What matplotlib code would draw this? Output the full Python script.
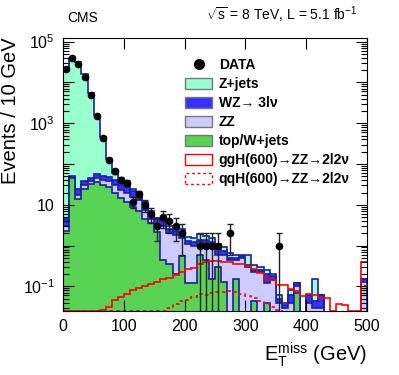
import numpy as np
import matplotlib
matplotlib.use("Agg")
import matplotlib.pyplot as plt
from matplotlib.patches import Patch
from matplotlib.lines import Line2D
from matplotlib.ticker import FixedLocator, FuncFormatter, NullFormatter

plt.rcParams['font.family'] = ['Liberation Sans', 'DejaVu Sans']
plt.rcParams['mathtext.fontset'] = 'custom'
plt.rcParams['mathtext.rm'] = 'Liberation Sans'
plt.rcParams['mathtext.it'] = 'Liberation Sans'

# binning: 10 GeV bins from 0 to 500
edges = np.arange(0, 510, 10)

# stacked backgrounds (per-process contributions, events / 10 GeV)
topw = [2.3, 45, 14, 24, 32, 36, 31, 28, 20, 15,
        12, 9, 7, 4.5, 3.5, 2.2, 0.45, 0.35, 0.2, 0.55,
        0.12, 0.12, 0.6, 0.45, 0.15, 0.3, 0.13, 0, 0.15, 0,
        0, 0.045, 0, 0.04, 0, 0, 0, 0, 0.07, 0,
        0, 0, 0, 0, 0, 0, 0, 0, 0, 0]
zz = [0.7, 2, 3, 6, 7, 9, 10, 10, 10, 8,
      8, 7, 6, 3, 1.1, 1.2, 2.55, 1.65, 1.6, 0.95,
      0.98, 0.88, 0.6, 0.65, 0.75, 0.3, 0.47, 0.45, 0.3, 0.5,
      0.3, 0.175, 0.22, 0.08, 0.14, 0.04, 0.03, 0.04, 0.03, 0,
      0.04, 0.03, 0.03, 0, 0, 0, 0, 0, 0, 0.13]
wz = [1.6, 4, 8, 8, 7, 13, 11, 10, 10, 7,
      8, 6, 5, 3, 1.7, 1.0, 1.0, 0.6, 0.5, 0.5,
      0.2, 0.25, 0.2, 0.25, 0.35, 0.25, 0.15, 0.05, 0.05, 0.05,
      0.03, 0.03, 0.03, 0.08, 0.04, 0.01, 0.005, 0.02, 0.02, 0,
      0.02, 0.015, 0.03, 0, 0, 0, 0, 0, 0, 0.025]
zjets = [22995, 39950, 30975, 15962, 5454, 1542, 418, 82, 22, 10,
         9, 3, 2, 1, 0.9, 0.4, 0.5, 0.4, 0.3, 0.5,
         0.3, 0.25, 0.5, 0.35, 0.25, 0.25, 0.15, 0.15, 0.1, 0.05,
         0.27, 0.08, 0.05, 0.05, 0.02, 0.01, 0.005, 0.02, 0, 0,
         0, 0.105, 0, 0, 0, 0, 0, 0, 0, 0]

# signals
ggh = [0.0252, 0.0252, 0.0252, 0.0252, 0.0252, 0.0252, 0.027, 0.032, 0.047, 0.056,
       0.064, 0.082, 0.089, 0.10, 0.114, 0.128, 0.15, 0.165, 0.19, 0.22,
       0.26, 0.28, 0.35, 0.39, 0.42, 0.42, 0.40, 0.39, 0.35, 0.35,
       0.32, 0.27, 0.21, 0.15, 0.14, 0.11, 0.11, 0.085, 0.078, 0.057,
       0.065, 0.062, 0.053, 0.053, 0.0252, 0.038, 0.035, 0.0252, 0.0252, 0.39]
qqh = [0.0256, 0.0256, 0.0256, 0.0256, 0.0256, 0.0256, 0.0256, 0.0256, 0.0256, 0.0256,
       0.0256, 0.0256, 0.0256, 0.0256, 0.0256, 0.0256, 0.0256, 0.03, 0.038, 0.044,
       0.046, 0.055, 0.064, 0.062, 0.07, 0.075, 0.072, 0.078, 0.072, 0.064,
       0.058, 0.053, 0.045, 0.038, 0.032, 0.026, 0.01, 0.01, 0.01, 0.01,
       0.01, 0.01, 0.01, 0.01, 0.01, 0.01, 0.01, 0.01, 0.01, 0.10]

# observed data (bin centre, counts)
data_x = [5, 15, 25, 35, 45, 55, 65, 75, 85, 95, 105, 115, 125, 135, 145,
          155, 165, 175, 185, 195, 225, 235, 245, 255, 275, 355]
data_y = [21500, 40000, 29000, 13700, 5060, 1520, 425, 128, 66, 41, 35, 12, 18, 10, 6,
          3, 5, 4, 3, 2, 1, 1, 1, 1, 2, 1]

c_zj = '#99FFCC'
c_wz = '#3333FF'
c_zz = '#CCCCFF'
c_tw = '#59D354'
c_line = '#1E1EA0'

fig = plt.figure(figsize=(3.99, 3.75), dpi=100)
ax = fig.add_axes([0.1586, 0.1707, 0.7604, 0.7288])
ymin, ymax = 0.025, 1.25e5
floor = 1e-4

lvl_g = np.array(topw)
lvl_z = lvl_g + np.array(zz)
lvl_w = lvl_z + np.array(wz)
lvl_t = lvl_w + np.array(zjets)

for lvl, col in [(lvl_t, c_zj), (lvl_w, c_wz), (lvl_z, c_zz), (lvl_g, c_tw)]:
    v = np.where(lvl > 0, lvl, floor)
    ax.stairs(v, edges, baseline=floor, fill=True, color=col, lw=0)
    ax.stairs(v, edges, baseline=floor, fill=False, color=c_line, lw=1.2)

ax.stairs(ggh, edges, baseline=None, color='red', lw=1.2)
ax.stairs(qqh, edges, baseline=None, color='red', lw=1.2, ls=(0, (2, 2)))

dy = np.array(data_y, dtype=float)
err = np.sqrt(dy)
lo = np.minimum(err, dy - 1e-3)
ax.errorbar(data_x, dy, yerr=[lo, err], fmt='o', color='black', ms=4.5,
            ecolor='#222222', elinewidth=1, capsize=2.5, capthick=1)

ax.set_yscale('log')
ax.set_xlim(0, 500)
ax.set_ylim(ymin, ymax)

ax.xaxis.set_major_locator(FixedLocator([0, 100, 200, 300, 400, 500]))
ax.yaxis.set_major_locator(FixedLocator([10.0 ** k for k in range(-1, 6)]))
lab = {5: r'$10^{5}$', 3: r'$10^{3}$', 1: '10', -1: r'$10^{-1}$'}
ax.yaxis.set_major_formatter(FuncFormatter(
    lambda v, p: lab.get(int(round(np.log10(v))), '')))
minors = [m * 10.0 ** k for k in range(-2, 6) for m in range(2, 10)]
ax.yaxis.set_minor_locator(FixedLocator(minors))
ax.yaxis.set_minor_formatter(NullFormatter())
ax.tick_params(which='both', direction='in', top=True, right=True, labelsize=11.5)
ax.tick_params(which='major', length=8, width=0.8)
ax.tick_params(which='minor', length=4, width=0.8)
ax.tick_params(axis='x', pad=6)
ax.tick_params(axis='y', pad=6)

ax.set_ylabel('Events / 10 GeV', fontsize=14.5, loc='top', labelpad=2)
ax.set_xlabel(r'E$_\mathregular{T}^\mathregular{miss}$ (GeV)', fontsize=14.5, loc='right', labelpad=4)

ax.text(0.012, 1.045, 'CMS', transform=ax.transAxes, fontsize=10, ha='left', va='bottom')
ax.text(0.97, 1.045, r'$\sqrt{s}$ = 8 TeV, L = 5.1 fb$^{-1}$', transform=ax.transAxes,
        fontsize=10, ha='right', va='bottom')

handles = [
    Line2D([], [], marker='o', color='black', ls='none', ms=7),
    Patch(facecolor=c_zj, edgecolor='#777777'),
    Patch(facecolor=c_wz, edgecolor='#777777'),
    Patch(facecolor=c_zz, edgecolor='#777777'),
    Patch(facecolor=c_tw, edgecolor='#777777'),
    Patch(facecolor='white', edgecolor='red'),
    Patch(facecolor='white', edgecolor='red', ls=(0, (2, 2))),
]
labels = ['DATA', 'Z+jets', 'WZ\u2192 3l\u03bd', 'ZZ', 'top/W+jets',
          'ggH(600)\u2192ZZ\u21922l2\u03bd',
          'qqH(600)\u2192ZZ\u21922l2\u03bd']
ax.legend(handles, labels, loc='upper left', bbox_to_anchor=(0.40, 0.925),
          frameon=False, prop={'weight': 'bold', 'size': 10},
          handlelength=2.0, handleheight=0.85, handletextpad=0.45,
          labelspacing=0.36, borderpad=0, borderaxespad=0)

fig.savefig('out.png', dpi=100)
